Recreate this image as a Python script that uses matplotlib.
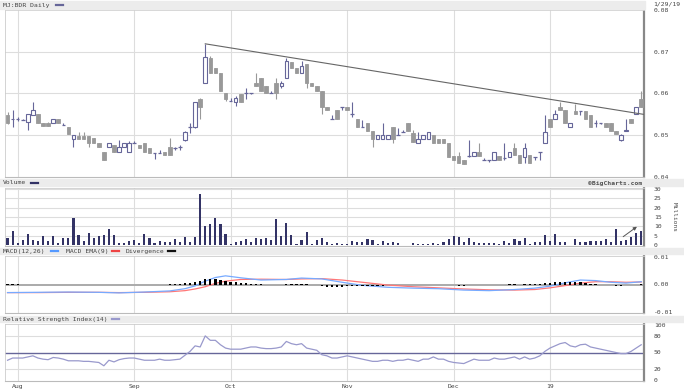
import matplotlib
matplotlib.use("Agg")
import matplotlib.pyplot as plt
from matplotlib.patches import Rectangle

W, H = 684, 390

# ---- data (one entry per trading day, 7/30/18 .. 1/29/19) ----
month_labels = ["Aug", "Sep", "Oct", "Nov", "Dec", "19"]
month_idx = [2, 25, 44, 67, 88, 107]

opens = [.0548, .0538, .0538, .0536, .0531, .0548, .0550, .0529, .0529, .0529,
         .0538, .0524, .0519, .0490, .0498, .0498, .0498, .0493, .0481, .0460,
         .0471, .0476, .0460, .0471, .0460, .0481, .0476, .0481, .0469, .0457,
         .0457, .0460, .0471, .0469, .0471, .0488, .0519, .0519, .0588, .0626,
         .0686, .0660, .0648, .0600, .0583, .0579, .0598, .0600, .0600, .0626,
         .0638, .0619, .0600, .0626, .0619, .0638, .0676, .0660, .0648, .0671,
         .0626, .0619, .0607, .0567, .0540, .0560, .0567, .0567, .0552, .0540,
         .0519, .0529, .0510, .0490, .0490, .0490, .0519, .0500, .0507, .0529,
         .0505, .0481, .0490, .0490, .0500, .0490, .0490, .0481, .0450, .0450,
         .0440, .0450, .0450, .0460, .0440, .0440, .0440, .0450, .0445, .0448,
         .0469, .0452, .0448, .0452, .0448, .0460, .0481, .0538, .0538, .0567,
         .0560, .0519, .0557, .0557, .0557, .0548, .0529, .0529, .0529, .0529,
         .0510, .0488, .0510, .0538, .0550, .0588]
highs = [.0555, .0560, .0543, .0540, .0552, .0579, .0552, .0529, .0531, .0540,
         .0538, .0529, .0519, .0500, .0507, .0507, .0498, .0493, .0481, .0460,
         .0481, .0476, .0488, .0481, .0486, .0486, .0476, .0481, .0469, .0457,
         .0464, .0460, .0493, .0471, .0476, .0510, .0529, .0579, .0590, .0719,
         .0690, .0660, .0648, .0600, .0590, .0595, .0598, .0612, .0602, .0648,
         .0638, .0619, .0605, .0638, .0630, .0686, .0676, .0660, .0679, .0671,
         .0626, .0619, .0607, .0567, .0548, .0560, .0567, .0567, .0579, .0540,
         .0536, .0529, .0510, .0500, .0529, .0500, .0519, .0517, .0512, .0529,
         .0512, .0507, .0500, .0507, .0500, .0490, .0490, .0481, .0450, .0460,
         .0440, .0488, .0460, .0481, .0445, .0440, .0460, .0450, .0481, .0460,
         .0481, .0452, .0481, .0452, .0448, .0460, .0548, .0538, .0560, .0579,
         .0560, .0529, .0576, .0557, .0557, .0548, .0536, .0529, .0529, .0529,
         .0510, .0502, .0538, .0538, .0567, .0607]
lows = [.0526, .0519, .0533, .0536, .0512, .0548, .0529, .0521, .0521, .0529,
        .0529, .0524, .0502, .0471, .0490, .0490, .0471, .0481, .0471, .0440,
        .0471, .0460, .0460, .0471, .0460, .0481, .0469, .0460, .0457, .0443,
        .0457, .0452, .0452, .0464, .0464, .0486, .0505, .0517, .0540, .0626,
        .0648, .0648, .0607, .0583, .0583, .0571, .0579, .0588, .0598, .0619,
        .0607, .0600, .0600, .0588, .0612, .0636, .0660, .0648, .0648, .0612,
        .0619, .0607, .0552, .0560, .0540, .0540, .0560, .0560, .0543, .0519,
        .0519, .0510, .0471, .0490, .0490, .0490, .0481, .0500, .0507, .0510,
        .0483, .0481, .0490, .0490, .0481, .0481, .0481, .0448, .0440, .0433,
        .0431, .0448, .0450, .0450, .0440, .0436, .0440, .0440, .0440, .0448,
        .0452, .0433, .0433, .0433, .0440, .0440, .0481, .0519, .0538, .0560,
        .0529, .0519, .0550, .0548, .0540, .0519, .0519, .0526, .0519, .0510,
        .0502, .0486, .0510, .0529, .0550, .0567]
closes = [.0529, .0540, .0538, .0536, .0552, .0560, .0529, .0521, .0521, .0538,
          .0529, .0524, .0502, .0500, .0490, .0490, .0481, .0481, .0471, .0440,
          .0481, .0460, .0471, .0481, .0481, .0481, .0469, .0460, .0457, .0457,
          .0457, .0452, .0452, .0469, .0471, .0507, .0519, .0579, .0567, .0688,
          .0648, .0648, .0607, .0588, .0583, .0590, .0579, .0600, .0600, .0619,
          .0607, .0600, .0600, .0600, .0626, .0679, .0660, .0648, .0667, .0626,
          .0619, .0607, .0567, .0560, .0540, .0540, .0567, .0560, .0552, .0519,
          .0519, .0510, .0490, .0500, .0500, .0500, .0490, .0500, .0507, .0510,
          .0483, .0490, .0500, .0507, .0481, .0481, .0481, .0448, .0440, .0433,
          .0431, .0450, .0460, .0450, .0440, .0440, .0460, .0440, .0445, .0460,
          .0452, .0433, .0469, .0433, .0448, .0460, .0507, .0519, .0550, .0560,
          .0529, .0529, .0550, .0557, .0540, .0519, .0529, .0529, .0519, .0510,
          .0502, .0500, .0512, .0529, .0567, .0567]

# trend line drawn on the price panel (index, price)
trend_start = (39, 0.0719)
trend_end = (125.5, 0.0550)

# volume, millions
volume = [3.6, 7.7, 1.2, 2.9, 6.1, 2.5, 2.1, 4.8, 2.3, 4.6,
          0.9, 3.9, 3.9, 14.6, 5.5, 2.0, 6.2, 3.6, 5.0, 5.3,
          8.4, 5.5, 1.2, 1.2, 2.0, 2.9, 1.2, 5.9, 3.7, 1.2,
          2.3, 1.4, 1.8, 3.0, 1.6, 4.1, 1.6, 4.3, 27.5, 10.3,
          11.1, 14.6, 11.2, 6.1, 0.7, 1.6, 2.3, 3.2, 1.8, 3.6,
          3.2, 3.7, 2.9, 13.9, 4.8, 11.6, 5.3, 0.7, 2.5, 7.0,
          0.7, 2.7, 3.6, 1.8, 0.4, 0.9, 0.4, 0.7, 2.1, 1.6,
          1.6, 3.0, 2.7, 0.7, 2.0, 1.2, 1.4, 0.9, 0.1, 0.1,
          1.1, 0.5, 0.5, 0.7, 0.9, 0.5, 1.6, 3.0, 4.8, 4.5,
          1.8, 3.6, 1.6, 1.2, 1.2, 0.9, 1.2, 0.5, 2.1, 0.9,
          3.2, 2.1, 3.6, 0.7, 1.4, 1.4, 5.5, 2.0, 6.0, 1.8,
          1.8, 0.3, 3.4, 1.4, 1.4, 2.1, 2.1, 2.1, 3.0, 1.4,
          8.7, 2.1, 2.9, 4.4, 6.6, 7.7]
arrow_start = (121.0, 3.6)
arrow_end = (124.6, 10.7)

# MACD (x1000) read at these day indexes
macd_idx = [0, 6, 12, 18, 22, 27, 32, 35, 37, 39, 41, 43, 46, 50, 55, 58, 62,
            66, 70, 75, 80, 85, 90, 95, 100, 104, 107, 110, 113, 116, 119, 122, 125]
macd_line = [-2.9, -2.8, -2.7, -2.8, -3.0, -2.7, -2.3, -1.5, -0.5, 1.2, 2.5, 3.1,
             2.4, 1.6, 1.8, 2.3, 2.0, 0.8, -0.3, -1.0, -1.3, -1.5, -2.0, -2.2,
             -1.8, -1.3, -0.6, 0.6, 1.6, 1.4, 0.8, 0.5, 1.0]
macd_ema = [-2.9, -2.9, -2.8, -2.8, -2.9, -2.8, -2.6, -2.2, -1.6, -0.8, 0.4, 1.2,
            1.8, 1.9, 1.8, 2.0, 2.1, 1.6, 0.8, -0.2, -0.8, -1.2, -1.6, -1.9,
            -2.0, -1.8, -1.2, -0.4, 0.5, 1.0, 1.0, 0.8, 0.9]
divergence = [0.1, 0.1, 0.1, 0.0, 0.0, 0.0, 0.0, 0.0, 0.0, 0.0, 0.0, 0.0,
              -0.1, -0.2, -0.2, -0.2, -0.2, -0.2, -0.2, -0.3, -0.2, -0.2, -0.1, 0.0, 0.0,
              0.0, 0.0, 0.0, -0.1, -0.1, 0.0, 0.0, 0.1, 0.2, 0.3,
              0.5, 0.7, 1.0, 1.2, 1.8, 2.0, 1.8, 1.6, 1.3, 1.0,
              0.8, 0.6, 0.5, 0.3, 0.2, 0.1, 0.0, -0.1, -0.1, 0.0,
              0.2, 0.2, 0.2, 0.3, 0.1, -0.1, -0.3, -0.6, -0.8, -0.9,
              -0.9, -0.8, -0.7, -0.7, -0.6, -0.6, -0.6, -0.6, -0.5, -0.4,
              -0.3, -0.3, -0.2, -0.2, -0.1, -0.1, -0.1, 0.0, 0.0, 0.0,
              -0.1, -0.1, -0.2, -0.3, -0.4, -0.4, -0.3, -0.2, -0.2, -0.2,
              -0.1, -0.1, 0.0, 0.0, 0.1, 0.1, 0.0, 0.1, 0.1, 0.2,
              0.3, 0.6, 0.7, 0.9, 1.0, 1.0, 1.0, 0.9, 0.8, 0.6,
              0.3, 0.1, 0.0, -0.2, -0.3, -0.4, -0.4, -0.3, -0.2, 0.0, 0.2]

rsi = [36, 40, 40, 40, 42, 44, 40, 38, 37, 41, 40, 38, 35, 35, 35, 34, 34, 33, 32, 26,
       36, 33, 37, 39, 40, 40, 38, 36, 36, 36, 38, 36, 36, 37, 38, 45, 52, 62, 60, 80,
       72, 72, 64, 58, 56, 56, 56, 58, 60, 60, 58, 57, 57, 58, 60, 70, 66, 64, 66, 58,
       56, 54, 46, 44, 40, 40, 42, 44, 42, 40, 38, 36, 34, 34, 36, 36, 34, 36, 36, 38,
       36, 34, 38, 38, 42, 38, 38, 34, 32, 31, 30, 34, 38, 36, 36, 36, 40, 38, 38, 40,
       42, 38, 42, 38, 40, 44, 52, 58, 62, 66, 68, 62, 60, 64, 65, 60, 58, 56, 54, 52,
       50, 48, 48, 52, 58, 64]

# ---- drawing ----
MONO = "DejaVu Sans Mono"
TXT = "#444444"
GRID = "#dddddd"
UP = "#666699"
DOWN = "#999999"
XLIM = (-0.5, 125.55)

fig = plt.figure(figsize=(W / 100, H / 100), dpi=100)
fig.patch.set_facecolor("white")


def box(x0, y0, x1, y1):
    return [x0 / W, 1 - y1 / H, (x1 - x0) / W, (y1 - y0) / H]


def band(y0, y1, x1=W):
    fig.patches.append(Rectangle((0, 1 - y1 / H), x1 / W, (y1 - y0) / H,
                                 transform=fig.transFigure, color="#ececec", zorder=0))


def ftext(x, y, s, **kw):
    kw.setdefault("color", TXT)
    kw.setdefault("fontsize", 4.6)
    fig.text(x / W, 1 - y / H, s, family=MONO, va="center", **kw)


def dash(x, y, c):
    fig.add_artist(plt.Line2D([x / W, (x + 7) / W], [1 - y / H, 1 - y / H],
                              color=c, lw=1.6, transform=fig.transFigure))


def panel(y0, y1, ylim, ticks, labels, grid):
    ax = fig.add_axes(box(5, y0, 644, y1))
    ax.set_xlim(*XLIM)
    ax.set_ylim(*ylim)
    ax.set_xticks([])
    ax.yaxis.tick_right()
    ax.set_yticks(ticks)
    ax.set_yticklabels(labels, fontsize=4.6, family=MONO, color=TXT)
    ax.tick_params(axis="y", length=0, pad=7)
    for m in month_idx:
        ax.axvline(m, color=GRID, lw=0.8, zorder=0)
    for g in grid:
        ax.axhline(g, color=GRID, lw=0.8, zorder=0)
    for s in ("left", "top"):
        ax.spines[s].set_color("#cccccc")
        ax.spines[s].set_linewidth(0.6)
    ax.spines["bottom"].set_color("#bbbbbb")
    ax.spines["right"].set_color("#888888")
    ax.spines["right"].set_linewidth(1.6)
    return ax


# header bands
band(1, 9, 645)
band(179, 186)
band(248, 254)
band(316, 322)

ftext(3, 5, "MJ:BDR Daily")
dash(56, 5, UP)
ftext(653, 4, "1/29/19")

ftext(3, 183, "Volume")
dash(31, 183, "#333366")
ftext(642, 183, "\u00a9BigCharts.com", ha="right", weight="bold", color="#555555")

ftext(3, 251, "MACD(12,26)")
dash(51, 251, "#5599ff")
ftext(66, 251, "MACD EMA(9)")
dash(112, 251, "#ee4444")
ftext(126, 251, "Divergence")
dash(168, 251, "#111111")

ftext(3, 319, "Relative Strength Index(14)")
dash(112, 319, "#9999cc")

# price panel
ax = panel(10, 177, (0.04, 0.08), [0.04, 0.05, 0.06, 0.07, 0.08],
           ["0.04", "0.05", "0.06", "0.07", "0.08"], [0.05, 0.06, 0.07])
bw = 0.7
for i in range(len(closes)):
    o, h, l, c = opens[i], highs[i], lows[i], closes[i]
    if c > o:
        ax.vlines(i, l, h, color=UP, lw=0.8, zorder=2)
        ax.bar(i, c - o, bottom=o, width=bw, facecolor="white", edgecolor=UP,
               lw=0.8, zorder=3)
    elif c < o:
        ax.vlines(i, l, h, color=DOWN, lw=0.8, zorder=2)
        ax.bar(i, o - c, bottom=c, width=bw, facecolor=DOWN, edgecolor=DOWN,
               lw=0.6, zorder=3)
    else:
        ax.vlines(i, l, h, color=UP, lw=0.8, zorder=2)
        ax.hlines(c, i - bw / 2, i + bw / 2, color=UP, lw=0.9, zorder=3)
ax.plot([trend_start[0], trend_end[0]], [trend_start[1], trend_end[1]],
        color="#666666", lw=0.8, zorder=4)

# volume panel
av = panel(188, 246, (-0.5, 30.5), [0, 5, 10, 15, 20, 25, 30],
           ["0", "5", "10", "15", "20", "25", "30"], [5, 10, 15, 20, 25, 30])
av.bar(range(len(volume)), volume, width=0.42, color="#333366", zorder=3)
av.annotate("", xy=arrow_end, xytext=arrow_start,
            arrowprops=dict(arrowstyle="-|>", color="#555555", lw=0.7,
                            mutation_scale=5), zorder=4)
ftext(674, 217, "Millions", rotation=270, ha="center", fontsize=4.4)

# MACD panel
am = panel(256, 313, (-10.2, 10.2), [-10, 0, 10], ["-0.01", "0.00", "0.01"], [])
am.axhline(0, color="#aaaaaa", lw=1.4, zorder=1)
am.bar(range(len(divergence)), divergence, width=0.45, color="black", zorder=4)
am.plot(macd_idx, macd_ema, color="#ff7777", lw=0.9, zorder=3)
am.plot(macd_idx, macd_line, color="#77aaff", lw=0.9, zorder=3)

# RSI panel
ar = panel(324, 381, (-1.5, 101.5), [0, 20, 50, 80, 100],
           ["0", "20", "50", "80", "100"], [20, 80])
ar.axhline(50, color="#666699", lw=1.0, zorder=1)
ar.plot(range(len(rsi)), rsi, color="#9999cc", lw=0.9, zorder=3)
ar.set_xticks(month_idx)
ar.set_xticklabels(month_labels, fontsize=4.6, family=MONO, color=TXT)
ar.tick_params(axis="x", length=0, pad=2)

fig.savefig("out.png", dpi=100)
